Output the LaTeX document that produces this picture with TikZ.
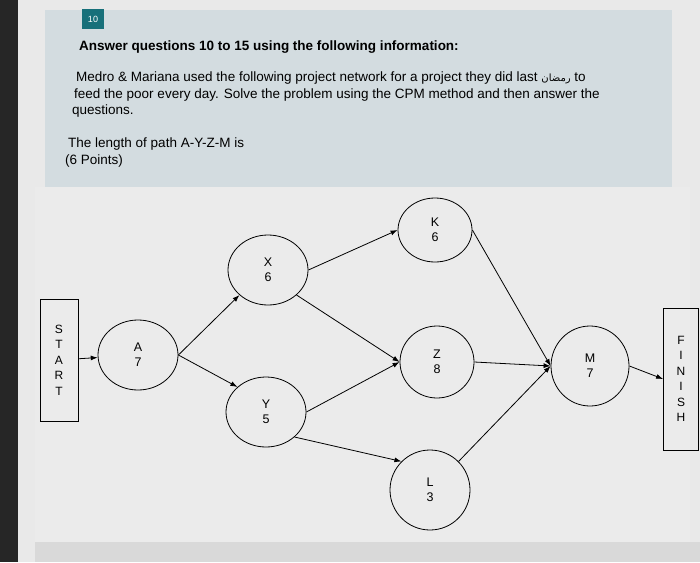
\documentclass[tikz,border=0pt]{standalone}
\usepackage{fontspec}
\setmainfont{Liberation Sans}
\newfontfamily\arabicfont[Script=Arabic]{DejaVu Sans}
\TeXXeTstate=1
\usetikzlibrary{arrows.meta,shapes.geometric}
\definecolor{panel}{HTML}{D3DCE0}
\definecolor{page}{HTML}{E9E9E9}
\definecolor{teal}{HTML}{17707A}
\begin{document}
\begin{tikzpicture}[x=1pt,y=-1pt,
  act/.style={draw,ellipse,line width=0.8pt,align=center,font=\fontsize{12.5}{15}\selectfont,inner sep=0pt},
  endbox/.style={draw,line width=0.8pt,align=center,font=\fontsize{12}{15.5}\selectfont,inner sep=0pt},
  link/.style={line width=0.8pt,-{Latex[length=7pt,width=5pt]}},
  txt/.style={anchor=west,font=\fontsize{13.5}{16}\selectfont,inner sep=0pt}]
\useasboundingbox (0,0) rectangle (700,562);
\fill[page] (0,0) rectangle (700,562);
\fill[black!85] (0,0) rectangle (18,562);
\fill[panel] (45,10) rectangle (672,187);
\fill[white!92!black] (35,187) rectangle (690,542);
\fill[black!15] (35,542) rectangle (700,562);
\node[fill=teal,text=white,minimum width=22pt,minimum height=20pt,inner sep=0pt,font=\fontsize{9}{10}\selectfont] (badge) at (93,19) {10};
\node[txt,font=\bfseries\fontsize{13.5}{16}\selectfont] (title) at (79,47) {Answer questions 10 to 15 using the following information:};
\node[txt] (p1) at (76,78) {Medro \& Mariana used the following project network for a project they did last {\arabicfont\fontsize{10}{12}\selectfont\beginR رمضان\endR} to};
\node[txt] (p2) at (74,95) {feed the poor every day. Solve the problem using the CPM method and then answer the};
\node[txt] (p3) at (72,111) {questions.};
\node[txt] (q1) at (68,144) {The length of path A-Y-Z-M is};
\node[txt] (q2) at (65,161) {(6 Points)};

\node[endbox,minimum width=38pt,minimum height=122pt] (start) at (59,360) {S\\T\\A\\R\\T};
\node[endbox,minimum width=35pt,minimum height=142pt] (finish) at (681,379) {F\\I\\N\\I\\S\\H};
\node[act,minimum width=80pt,minimum height=70pt] (A) at (138,355) {A\\7};
\node[act,minimum width=80pt,minimum height=70pt] (X) at (268,270) {X\\6};
\node[act,minimum width=80pt,minimum height=70pt] (Y) at (266,412) {Y\\5};
\node[act,minimum width=74pt,minimum height=64pt] (K) at (435,230) {K\\6};
\node[act,minimum width=74pt,minimum height=72pt] (Z) at (437,362) {Z\\8};
\node[act,minimum width=80pt,minimum height=80pt] (L) at (430,490) {L\\3};
\node[act,minimum width=78pt,minimum height=80pt] (M) at (590,366) {M\\7};

\draw[link] (start) -- (A);
\draw[link] (A.east) -- (X.south west);
\draw[link] (A.east) -- (Y.north west);
\draw[link] (X.east) -- (K.west);
\draw[link] (X.south east) -- (Z.west);
\draw[link] (Y.east) -- (Z.west);
\draw[link] (Y.south east) -- (L.north west);
\draw[link] (K.east) -- (M.west);
\draw[link] (Z.east) -- (M.west);
\draw[link] (L.north east) -- (M.west);
\draw[link] (M.east) -- (finish.west);
\end{tikzpicture}
\end{document}
